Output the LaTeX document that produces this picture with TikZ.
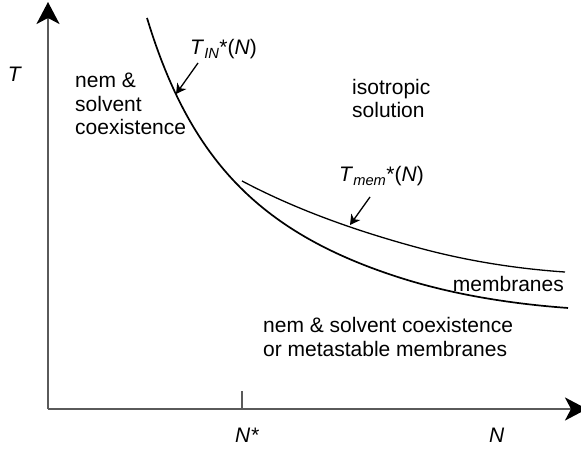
\documentclass[tikz,border=0pt]{standalone}
\usepackage{fontspec}
\setmainfont{Liberation Sans}
\usetikzlibrary{
  arrows.meta,
  positioning
}
\definecolor{phAxis}{HTML}{5A5A5A}
\definecolor{phLine}{HTML}{000000}
\tikzset{
  axisline/.style={line width=2.2pt, phAxis, -{Stealth[length=22pt, width=23pt, inset=6pt, color=black]}},
  tickmark/.style={line width=1.5pt, phAxis},
  boundary/.style={line width=1.7pt, phLine},
  memline/.style={line width=1.3pt, phLine},
  pointer/.style={line width=1.3pt, phLine, -{Stealth[length=10pt, width=11pt, inset=3pt]}},
  region/.style={font=\fontsize{21}{23.5}\selectfont, inner sep=0pt, align=left},
  curvelabel/.style={font=\fontsize{21}{23.5}\selectfont, inner sep=0pt}
}

\begin{document}
\begin{tikzpicture}[x=1pt, y=1pt]
  \useasboundingbox (0,0) rectangle (581,448);
  % axes
  \coordinate (origin) at (48,39);
  \coordinate (ytip) at (48,446);
  \coordinate (xtip) at (587,39);
  \coordinate (nstar) at (242,39);
  \draw[axisline] (origin) -- (ytip);
  \draw[axisline] (origin) -- (xtip);
  \draw[tickmark] (nstar) -- ++(0,18);
  \node[curvelabel, anchor=base] (tlabel) at (15,366) {\textit{T}};
  \node[curvelabel, anchor=base west] (nstarlabel) at (235,5.5) {\textit{N*}};
  \node[curvelabel, anchor=base west] (nlabel) at (489,5.5) {\textit{N}};
  % phase boundaries
  \draw[boundary] plot[domain=147:568, samples=140]
    (\x, {53.2 + 429.79/(\x/100 - 0.3295) + 2.3*(max(0,\x-400)/100)^2});
  \draw[memline] plot[domain=242:565, samples=100]
    (\x, {33.2 + 1031.21/(\x/100 + 1.99) + 3.71*(max(0,\x-420)/100)^2});
  % curve labels
  \node[curvelabel, anchor=base west] (tin) at (190,393) {\textit{T}\textsubscript{\textit{IN}}*(\textit{N})};
  \node[curvelabel, anchor=base west] (tmem) at (339,266) {\textit{T}\textsubscript{\textit{mem}}*(\textit{N})};
  \coordinate (tinfrom) at (198,385);
  \coordinate (tinto) at (176,354);
  \coordinate (tmemfrom) at (370,251);
  \coordinate (tmemto) at (350,223);
  \draw[pointer] (tinfrom) -- (tinto);
  \draw[pointer] (tmemfrom) -- (tmemto);
  % regions (base = last line)
  \node[region, anchor=base west] (coex) at (75,313) {nem \&\\solvent\\coexistence};
  \node[region, anchor=base west] (iso) at (352,330) {isotropic\\solution};
  \node[region, anchor=base east] (memb) at (564,156.3) {membranes};
  \node[region, anchor=base west] (meta) at (263,92) {nem \& solvent coexistence\\or metastable membranes};
\end{tikzpicture}
\end{document}
